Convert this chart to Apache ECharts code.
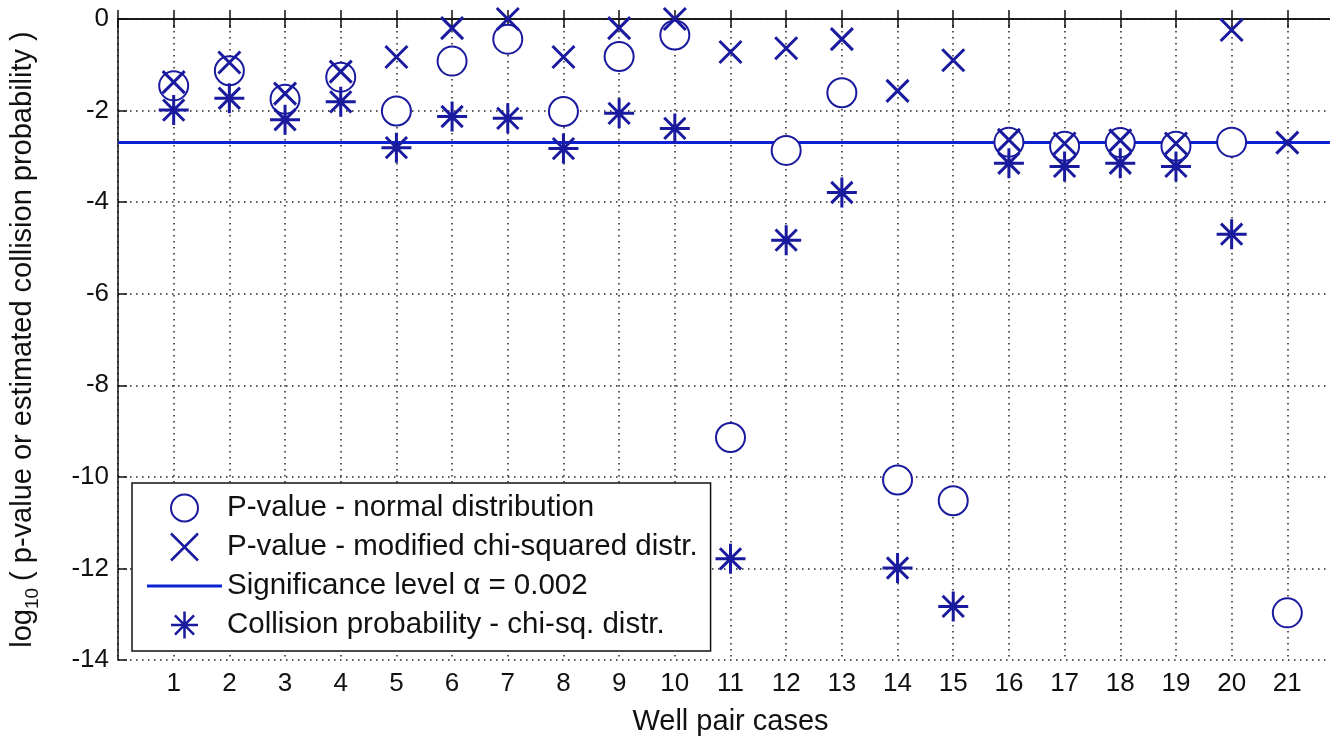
<!DOCTYPE html>
<html>
<head>
<meta charset="utf-8">
<title>Well pair cases</title>
<script src="https://cdn.jsdelivr.net/npm/echarts@6/dist/echarts.min.js"></script>
<style>
  html, body { margin: 0; padding: 0; background: #fff; }
  #chart { width: 1330px; height: 737px; }
</style>
</head>
<body>
<div id="chart"></div>
<script>
// Well pair case numbers on the x axis
const cases = [1, 2, 3, 4, 5, 6, 7, 8, 9, 10, 11, 12, 13, 14, 15, 16, 17, 18, 19, 20, 21];

// log10 of the p-value, normal distribution
const pNormal = [-1.46, -1.13, -1.75, -1.27, -2.01, -0.92, -0.44, -2.02, -0.82, -0.35,
                 -9.14, -2.87, -1.61, -10.07, -10.52, -2.69, -2.78, -2.70, -2.78, -2.69, -12.97];

// log10 of the p-value, modified chi-squared distribution
const pChiSq = [-1.38, -0.95, -1.63, -1.15, -0.83, -0.20, 0.00, -0.83, -0.20, 0.00,
                -0.72, -0.64, -0.44, -1.57, -0.90, -2.64, -2.72, -2.65, -2.72, -0.24, -2.70];

// log10 of the estimated collision probability, chi-squared distribution (none for case 21)
const pCollision = [-1.99, -1.73, -2.20, -1.81, -2.81, -2.13, -2.17, -2.83, -2.06, -2.39,
                    -11.79, -4.83, -3.79, -11.99, -12.83, -3.15, -3.22, -3.15, -3.22, -4.70, null];

// Significance level
const alpha = 0.002;
const sigLevel = Math.log10(alpha);

// Axis ranges and ticks
const xRange = [0, 22];
const yTicks = [0, -2, -4, -6, -8, -10, -12, -14];

const seriesNames = [
  'P-value - normal distribution',
  'P-value - modified chi-squared distr.',
  'Significance level \u03b1 = 0.002',
  'Collision probability - chi-sq. distr.'
];

const markerColor = '#1a1a9e';
const lineColor = '#0c22d2';
const font = '"Liberation Sans", Arial, Helvetica, sans-serif';

const pairs = (vals) => cases.map((c, i) => [c, vals[i]]).filter(p => p[1] !== null);

const crossPath = 'path://M0,0L10,10M10,0L0,10';
const starPath = 'path://M0,5L10,5M5,0L5,10M1.46,1.46L8.54,8.54M8.54,1.46L1.46,8.54';
const dashPath = 'path://M0,0L75,0L75,3L0,3Z';

const chart = echarts.init(document.getElementById('chart'), null, { renderer: 'canvas' });

const axisLine = { show: true, lineStyle: { color: '#111', width: 1.5 } };
const gridDots = { show: true, lineStyle: { color: '#222', width: 1.5, type: [1.5, 4.5] } };

chart.setOption({
  backgroundColor: '#ffffff',
  animation: false,
  textStyle: { fontFamily: font, color: '#111' },
  grid: { left: 118, width: 1225, top: 19, height: 641, containLabel: false, outerBoundsMode: 'none' },
  xAxis: [
    {
      type: 'value', position: 'bottom',
      min: xRange[0], max: xRange[1], interval: 1,
      axisLine: axisLine,
      axisTick: { show: true, inside: true, length: 9, lineStyle: { color: '#111', width: 1.5 } },
      axisLabel: {
        fontSize: 26, color: '#111', fontFamily: font, margin: 11,
        formatter: (v) => (cases.indexOf(v) >= 0 ? String(v) : '')
      },
      splitLine: gridDots,
      name: 'Well pair cases', nameLocation: 'middle', nameGap: 47,
      nameTextStyle: { fontSize: 29, color: '#111', fontFamily: font }
    },
    {
      type: 'value', position: 'top',
      min: xRange[0], max: xRange[1], interval: 1,
      axisLine: axisLine,
      axisTick: { show: true, inside: true, length: 9, lineStyle: { color: '#111', width: 1.5 } },
      axisLabel: { show: false },
      splitLine: { show: false }
    }
  ],
  yAxis: {
    type: 'value',
    min: yTicks[yTicks.length - 1], max: yTicks[0], interval: 2,
    axisLine: axisLine,
    axisTick: { show: true, inside: true, length: 9, lineStyle: { color: '#111', width: 1.5 } },
    axisLabel: { fontSize: 26, color: '#111', fontFamily: font, margin: 9 },
    splitLine: gridDots,
    name: '{n|log}{s|10}{n|( p-value or estimated collision probability )}',
    nameLocation: 'middle', nameRotate: 90, nameGap: 80,
    nameTextStyle: {
      color: '#111', fontFamily: font,
      rich: {
        n: { fontSize: 29, fontFamily: font, color: '#111', lineHeight: 30, verticalAlign: 'top' },
        s: { fontSize: 19, fontFamily: font, color: '#111', lineHeight: 19, verticalAlign: 'top', padding: [15, 7, 0, 0] }
      }
    }
  },
  legend: {
    orient: 'vertical',
    left: 132, top: 483,
    padding: [10, 13, 11, 15],
    itemWidth: 75, itemHeight: 27, itemGap: 9,
    backgroundColor: '#ffffff',
    borderColor: '#111', borderWidth: 1.5, borderRadius: 0,
    selectedMode: false,
    itemStyle: { borderWidth: 2.5 },
    textStyle: { fontSize: 29.5, color: '#111', fontFamily: font, lineHeight: 27 },
    data: [
      { name: seriesNames[0] },
      { name: seriesNames[1] },
      { name: seriesNames[2], icon: dashPath, itemStyle: { color: lineColor, borderWidth: 0 } },
      { name: seriesNames[3] }
    ]
  },
  series: [
    {
      name: seriesNames[0], type: 'scatter', data: pairs(pNormal),
      symbol: 'emptyCircle', symbolSize: 29, clip: false, z: 3,
      itemStyle: { color: markerColor, borderColor: markerColor, borderWidth: 2.5, opacity: 1 },
      emphasis: { disabled: true }
    },
    {
      name: seriesNames[1], type: 'scatter', data: pairs(pChiSq),
      symbol: crossPath, symbolSize: 22, clip: false, z: 4,
      itemStyle: { color: markerColor, borderColor: markerColor, borderWidth: 3, opacity: 1 },
      emphasis: { disabled: true }
    },
    {
      name: seriesNames[2], type: 'line', data: [[xRange[0], sigLevel], [xRange[1], sigLevel]],
      symbol: 'none', clip: false, z: 2,
      lineStyle: { color: lineColor, width: 3 },
      itemStyle: { color: lineColor },
      emphasis: { disabled: true }
    },
    {
      name: seriesNames[3], type: 'scatter', data: pairs(pCollision),
      symbol: starPath, symbolSize: 30, clip: false, z: 5,
      itemStyle: { color: markerColor, borderColor: markerColor, borderWidth: 3, opacity: 1 },
      emphasis: { disabled: true }
    }
  ]
});
</script>
</body>
</html>
